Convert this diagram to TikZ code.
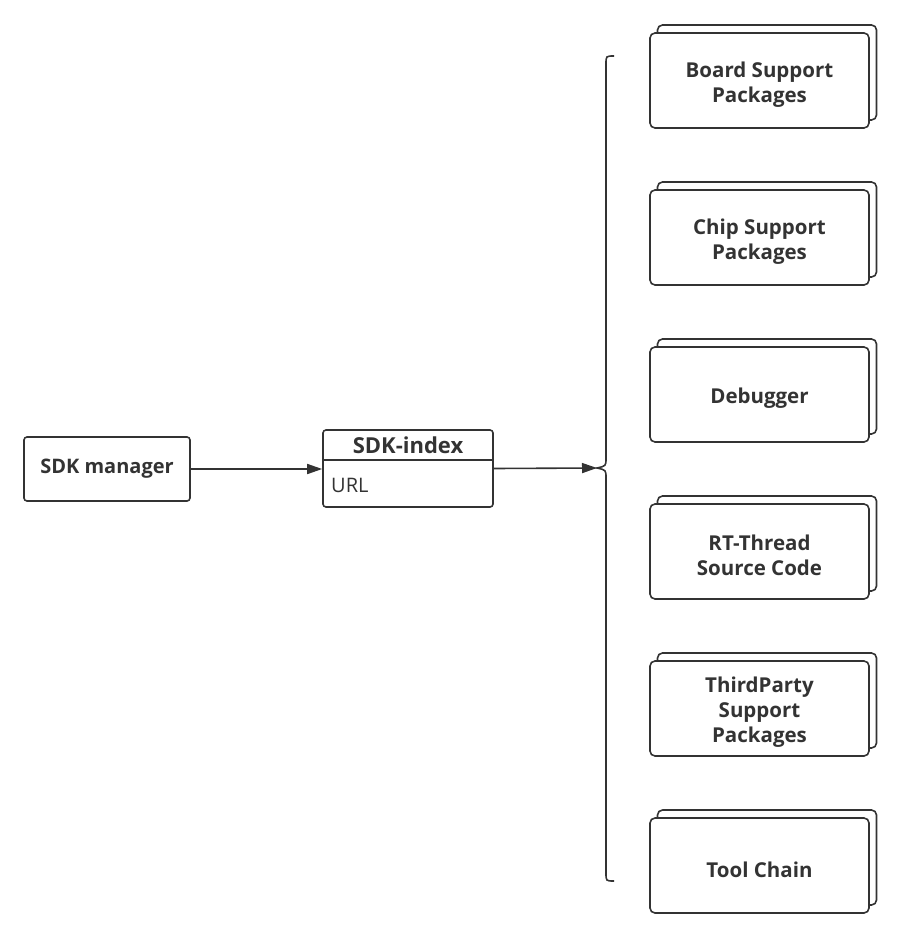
\documentclass[tikz,border=0pt]{standalone}
\usepackage{fontspec}
\setmainfont{Open Sans}
\usetikzlibrary{arrows.meta,positioning}
\definecolor{ink}{HTML}{333333}
\tikzset{
  every node/.style={text=ink},
  pkg/.style={draw=ink, line width=1.6pt, rounded corners=5pt, fill=white,
    minimum width=219pt, minimum height=95pt, inner sep=0pt},
  pkgback/.style={draw=ink, line width=1.6pt, rounded corners=5pt, fill=white,
    minimum width=219pt, minimum height=95pt, inner sep=0pt},
  pkgtext/.style={font=\fontsize{20.5}{25}\selectfont\bfseries, align=center, inner sep=0pt},
  plainbox/.style={draw=ink, line width=1.6pt, rounded corners=3pt, inner sep=0pt},
  conn/.style={draw=ink, line width=1.6pt, -{Triangle[length=15pt,width=10pt]}},
  bracepath/.style={draw=ink, line width=1.6pt},
}
\begin{document}
\begin{tikzpicture}[x=1pt,y=-1pt]
\useasboundingbox (0,0) rectangle (901,939);
% SDK manager
\node[plainbox, minimum width=166pt, minimum height=64pt,
  font=\fontsize{20}{25}\selectfont\bfseries] (mgr) at (107,469) {SDK manager};
% SDK-index
\node[plainbox, minimum width=170pt, minimum height=77pt] (idx) at (408,468.5) {};
\node[font=\fontsize{22}{25}\selectfont\bfseries, inner sep=0pt] (idxtitle) at (408,445) {SDK-index};
\draw[ink, line width=1.6pt] (idx.west |- 0,460) -- (idx.east |- 0,460);
\node[font=\fontsize{20}{25}\selectfont, anchor=west, inner sep=0pt] (idxurl) at (331,485) {URL};
% brace
\coordinate (btop) at (614,56);
\coordinate (bcusp) at (597,468);
\coordinate (bbot) at (614,881);
\draw[bracepath] (btop) .. controls (606,56) .. (606,64) -- (606,458)
  .. controls (606,466) .. (bcusp) .. controls (606,470) .. (606,478)
  -- (606,873) .. controls (606,881) .. (bbot);
% connectors
\draw[conn] (mgr.east) -- (idx.west |- mgr.east);
\draw[conn] (idx.east) -- (bcusp);
% packages
\foreach \y/\n/\t in {80.5/bsp/{Board Support\\Packages},
                      237.5/csp/{Chip Support\\Packages},
                      394.5/dbg/{Debugger},
                      551.5/rtt/{RT-Thread\\Source Code},
                      708.5/tp/{ThirdParty\\Support\\Packages},
                      865.5/tc/{Tool Chain}}{
  \node[pkgback] at (767,\y-8) {};
  \node[pkg] (\n) at (759.5,\y) {};
  \node[pkgtext] (\n text) at (759.5,\y+4) {\t};
}
\end{tikzpicture}
\end{document}
